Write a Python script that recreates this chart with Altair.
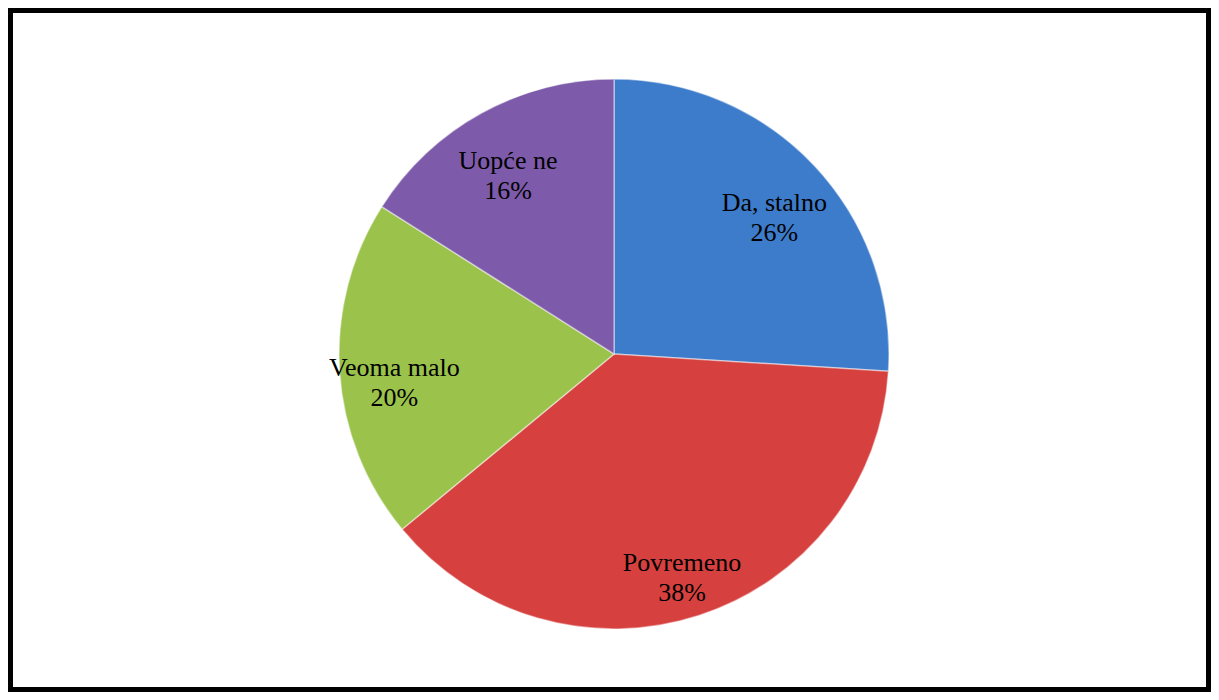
import altair as alt
import pandas as pd

categories = ["Da, stalno", "Povremeno", "Veoma malo", "Uopće ne"]
values = [26, 38, 20, 16]
colors = ["#3D7CCB", "#D6413F", "#9BC24B", "#7E5BAA"]

df = pd.DataFrame({"cat": categories, "value": values, "idx": list(range(len(categories)))})

CX, CY = 606, 346

base = alt.Chart(df).encode(
    theta=alt.Theta("value:Q", stack=True),
    order=alt.Order("idx:Q"),
)

arcs = base.mark_arc(outerRadius=275, stroke="#ffffff", strokeOpacity=0.45, strokeWidth=1.5).encode(
    x=alt.value(CX),
    y=alt.value(CY),
    color=alt.Color("cat:N", scale=alt.Scale(domain=categories, range=colors), legend=None),
)

labels = base.transform_calculate(
    label="datum.cat + '\\n' + datum.value + '%'"
).mark_text(
    radius=220, font="Liberation Serif", fontSize=26, lineBreak="\n",
    align="center", baseline="middle", color="black", lineHeight=30,
).encode(
    x=alt.value(CX),
    y=alt.value(CY),
    text="label:N",
)

frame = alt.Chart(pd.DataFrame({"a": [0]})).mark_rect(
    filled=False, stroke="black", strokeWidth=5
).encode(
    x=alt.value(2.5), x2=alt.value(1200.5), y=alt.value(2.5), y2=alt.value(681.5)
)

chart = alt.layer(arcs, labels, frame).properties(
    width=1203, height=684, padding=0, autosize=alt.AutoSizeParams(type="none"),
    background="white",
).configure_view(strokeWidth=0)

chart.save("out.html", embed_options={"renderer": "svg", "actions": False})
